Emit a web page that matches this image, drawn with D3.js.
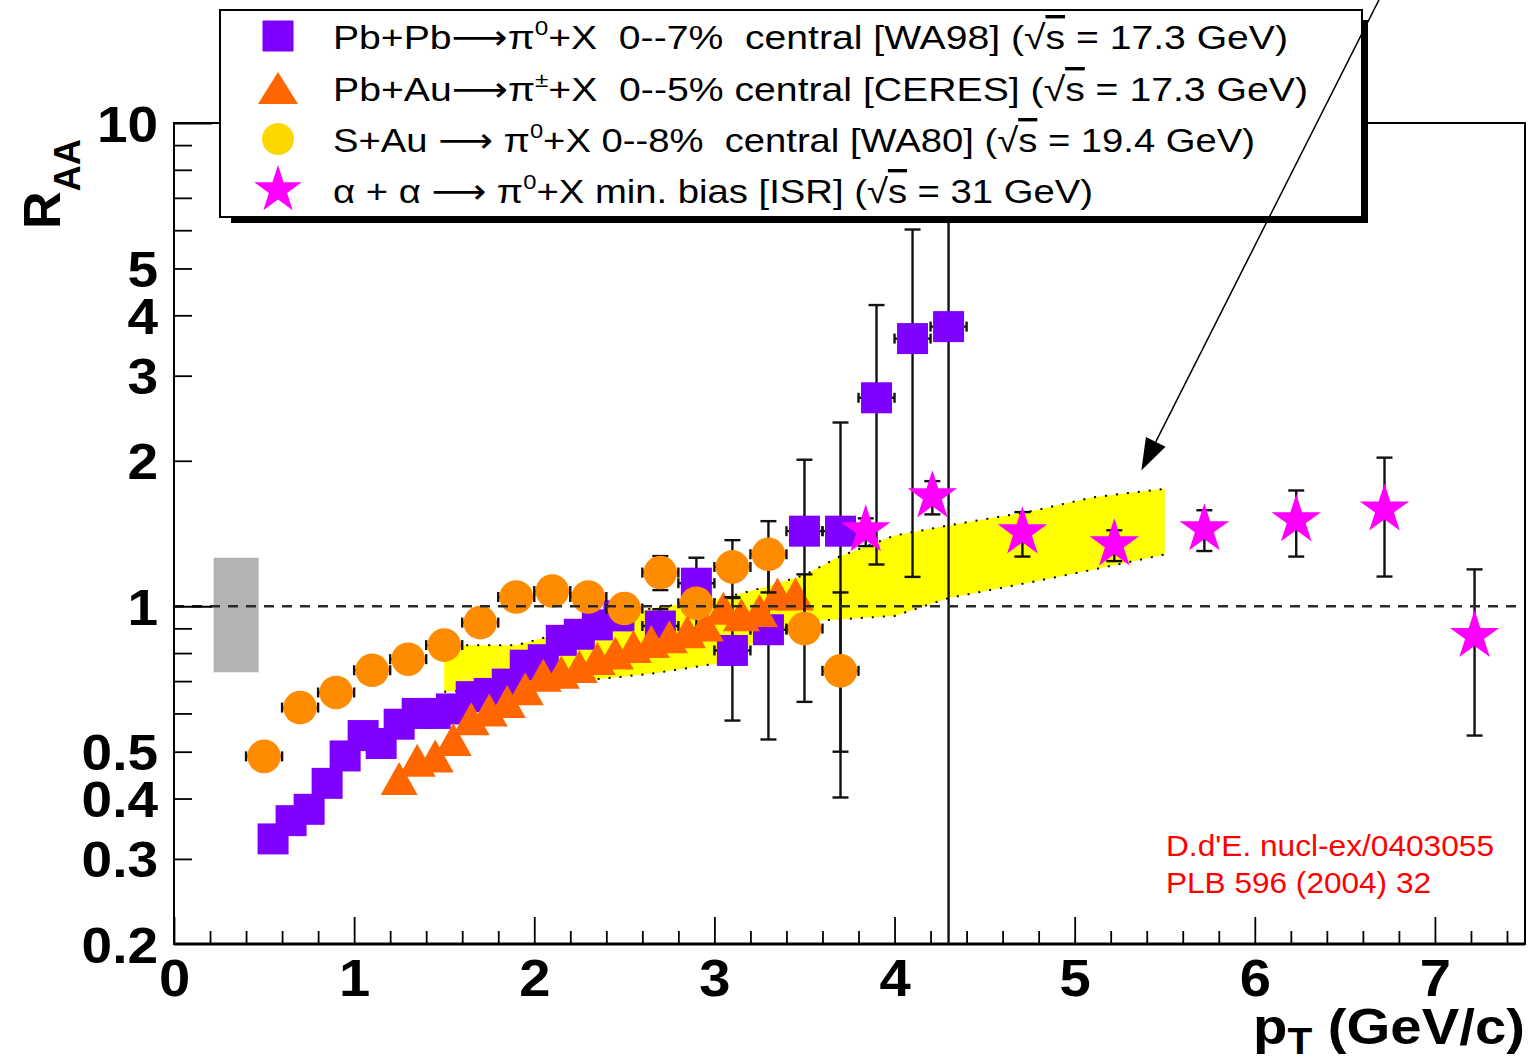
<!DOCTYPE html>
<html>
<head>
<meta charset="utf-8">
<script src="https://cdn.jsdelivr.net/npm/d3@7"></script>
<style>
  body { margin: 0; background: #fff; }
  text { font-family: "Liberation Sans", Arial, Helvetica, sans-serif; }
</style>
</head>
<body>
<div id="chart"></div>
<script>
// WA98 Pb+Pb -> pi0 (squares)
var wa98Pt = [0.55, 0.65, 0.75, 0.85, 0.95, 1.05, 1.15, 1.25, 1.35, 1.45, 1.54, 1.65, 1.75, 1.85, 1.95, 2.05, 2.15, 2.25, 2.35, 2.47, 2.7, 2.9, 3.1, 3.3, 3.5, 3.7, 3.9, 4.1, 4.3];
var wa98R  = [0.33, 0.36, 0.38, 0.43, 0.49, 0.54, 0.52, 0.57, 0.60, 0.60, 0.613, 0.65, 0.66, 0.69, 0.755, 0.775, 0.85, 0.875, 0.915, 0.955, 0.91, 1.116, 0.81, 0.894, 1.43, 1.43, 2.70, 3.58, 3.79];
var wa98Lo = [0.31, 0.34, 0.36, 0.41, 0.47, 0.52, 0.50, 0.55, 0.58, 0.58, 0.59, 0.63, 0.64, 0.67, 0.73, 0.75, 0.82, 0.84, 0.88, 0.92, 0.84, 0.90, 0.58, 0.53, 0.85, 0.50, 1.22, 1.15, 0.1];
var wa98Hi = [0.35, 0.38, 0.40, 0.45, 0.51, 0.56, 0.54, 0.59, 0.62, 0.62, 0.64, 0.67, 0.68, 0.71, 0.78, 0.80, 0.88, 0.91, 0.95, 0.99, 0.986, 1.26, 1.04, 1.26, 2.01, 2.40, 4.20, 6.02, 20];
var wa98Ex = [0.05, 0.05, 0.05, 0.05, 0.05, 0.05, 0.05, 0.05, 0.05, 0.05, 0.05, 0.05, 0.05, 0.05, 0.05, 0.05, 0.05, 0.05, 0.05, 0.05, 0.1, 0.1, 0.1, 0.1, 0.1, 0.1, 0.1, 0.1, 0.1];

// CERES Pb+Au -> pi+- (triangles)
var ceresPt = [1.25, 1.35, 1.45, 1.55, 1.65, 1.75, 1.85, 1.95, 2.05, 2.15, 2.25, 2.35, 2.45, 2.55, 2.65, 2.75, 2.85, 2.95, 3.05, 3.15, 3.25, 3.35, 3.45];
var ceresR  = [0.44, 0.48, 0.49, 0.53, 0.585, 0.61, 0.635, 0.675, 0.72, 0.73, 0.75, 0.78, 0.80, 0.825, 0.845, 0.865, 0.885, 0.915, 0.99, 0.96, 0.98, 1.06, 1.06];

// WA80 S+Au -> pi0 (circles)
var wa80Pt = [0.5, 0.7, 0.9, 1.1, 1.3, 1.5, 1.7, 1.9, 2.1, 2.3, 2.5, 2.7, 2.9, 3.1, 3.3, 3.5, 3.7];
var wa80R  = [0.489, 0.617, 0.663, 0.737, 0.777, 0.831, 0.925, 1.045, 1.075, 1.045, 0.989, 1.174, 1.014, 1.206, 1.281, 0.899, 0.735];
var wa80Lo = [0.47, 0.60, 0.645, 0.715, 0.755, 0.805, 0.895, 1.01, 1.04, 1.005, 0.925, 1.08, 0.95, 1.044, 1.068, 0.634, 0.402];
var wa80Hi = [0.51, 0.635, 0.68, 0.76, 0.80, 0.855, 0.955, 1.08, 1.11, 1.085, 1.05, 1.27, 1.08, 1.37, 1.50, 1.164, 1.068];
var wa80Ex = [0.1, 0.1, 0.1, 0.1, 0.1, 0.1, 0.1, 0.1, 0.1, 0.1, 0.1, 0.1, 0.1, 0.1, 0.1, 0.1, 0.1];

// ISR alpha+alpha -> pi0 (stars)
var isrPt = [3.84, 4.21, 4.71, 5.22, 5.72, 6.23, 6.72, 7.22];
var isrR  = [1.436, 1.688, 1.422, 1.343, 1.443, 1.506, 1.586, 0.868];
var isrLo = [1.332, 1.549, 1.267, 1.24, 1.301, 1.267, 1.152, 0.540];
var isrHi = [1.52, 1.815, 1.566, 1.436, 1.58, 1.736, 2.03, 1.192];

// yellow band
var bandPt = [1.5, 1.9, 2.65, 3.05, 3.3, 3.5, 3.7, 4.0, 4.3, 4.75, 5.1, 5.5];
var bandLo = [0.665, 0.68, 0.725, 0.765, 0.88, 0.93, 0.94, 0.955, 1.04, 1.12, 1.19, 1.28];
var bandHi = [0.83, 0.83, 0.99, 1.04, 1.10, 1.16, 1.27, 1.40, 1.47, 1.57, 1.68, 1.75];

// grey normalisation box
var sysBoxPt = [0.22, 0.47];
var sysBoxR = [0.73, 1.26];

// arrow annotation (data coords)
var arrowFrom = [6.69, 18];
var arrowTo = [5.37, 1.91];

// ticks
var xMajorTicks = [0, 1, 2, 3, 4, 5, 6, 7];
var yLabelTicks = [0.2, 0.3, 0.4, 0.5, 1, 2, 3, 4, 5, 10];
var yMinorTicks = [0.3, 0.4, 0.5, 0.6, 0.7, 0.8, 0.9, 2, 3, 4, 5, 6, 7, 8, 9];
var yMajorTicks = [1, 10];

var legendLabels = [
  [{t: 'Pb+Pb'}, {t: '\u27f6', arrow: true}, {t: '\u03c0'}, {t: '0', sup: true}, {t: '+X  0--7%  central [WA98] (\u221a'}, {t: 's', over: true}, {t: ' = 17.3 GeV)'}],
  [{t: 'Pb+Au'}, {t: '\u27f6', arrow: true}, {t: '\u03c0'}, {t: '\u00b1', sup: true}, {t: '+X  0--5% central [CERES] (\u221a'}, {t: 's', over: true}, {t: ' = 17.3 GeV)'}],
  [{t: 'S+Au '}, {t: '\u27f6', arrow: true}, {t: ' \u03c0'}, {t: '0', sup: true}, {t: '+X 0--8%  central [WA80] (\u221a'}, {t: 's', over: true}, {t: ' = 19.4 GeV)'}],
  [{t: '\u03b1 + \u03b1 '}, {t: '\u27f6', arrow: true}, {t: ' \u03c0'}, {t: '0', sup: true}, {t: '+X min. bias [ISR] (\u221a'}, {t: 's', over: true}, {t: ' = 31 GeV)'}]
];
var legendWidths = [955, 975, 922, 760];

var margin = { top: 123, right: 4, bottom: 116, left: 174 };
var width = 1529 - margin.left - margin.right;
var height = 1060 - margin.top - margin.bottom;

var svg = d3.select('#chart')
  .append('svg')
    .attr('width', 1529)
    .attr('height', 1060);

var g = svg.append('g')
  .attr('transform', 'translate(' + margin.left + ',' + margin.top + ')');

var x = d3.scaleLinear().domain([0, 7.5]).range([0, width]);
var y = d3.scaleLog().domain([0.2, 10]).range([height, 0]);

g.append('clipPath').attr('id', 'clip')
  .append('rect').attr('width', width).attr('height', height);
var plot = g.append('g').attr('clip-path', 'url(#clip)');

// grey box
plot.append('rect')
  .attr('x', x(sysBoxPt[0]))
  .attr('y', y(sysBoxR[1]))
  .attr('width', x(sysBoxPt[1]) - x(sysBoxPt[0]))
  .attr('height', y(sysBoxR[0]) - y(sysBoxR[1]))
  .attr('fill', '#b3b3b3');

// yellow band
var band = bandPt.map((p, i) => ({ pt: p, lo: bandLo[i], hi: bandHi[i] }));
plot.append('path').datum(band)
  .attr('fill', '#ffff00')
  .attr('d', d3.area().x(d => x(d.pt)).y0(d => y(d.lo)).y1(d => y(d.hi)));
['lo', 'hi'].forEach(function (k) {
  plot.append('path').datum(band)
    .attr('fill', 'none').attr('stroke', '#000').attr('stroke-width', 2)
    .attr('stroke-dasharray', '2,9')
    .attr('d', d3.line().x(d => x(d.pt)).y(d => y(d[k])));
});

// markers
function square(sel, s) {
  sel.append('rect').attr('x', -s / 2).attr('y', -s / 2).attr('width', s).attr('height', s);
}
function triangle(sel, w, h) {
  sel.append('path').attr('d', 'M0,' + (-h / 2) + 'L' + (w / 2) + ',' + (h / 2) + 'L' + (-w / 2) + ',' + (h / 2) + 'Z');
}
function circle(sel, r) {
  sel.append('circle').attr('r', r);
}
function star(sel, size) {
  sel.append('path').attr('d', d3.symbol().type(d3.symbolStar).size(size)());
}

function drawSeries(pts, vals, lo, hi, ex, color, shape) {
  var data = pts.map((p, i) => ({
    pt: p, r: vals[i],
    lo: lo ? lo[i] : null, hi: hi ? hi[i] : null, ex: ex ? ex[i] : 0
  }));
  var grp = plot.append('g');
  var eb = grp.append('g').attr('stroke', '#111').attr('stroke-width', 2.4);
  data.forEach(function (d) {
    var cx = x(d.pt), cy = y(d.r);
    if (d.lo !== null) {
      eb.append('line').attr('x1', cx).attr('x2', cx).attr('y1', y(d.lo)).attr('y2', y(d.hi));
      eb.append('line').attr('x1', cx - 8).attr('x2', cx + 8).attr('y1', y(d.lo)).attr('y2', y(d.lo));
      eb.append('line').attr('x1', cx - 8).attr('x2', cx + 8).attr('y1', y(d.hi)).attr('y2', y(d.hi));
    }
    if (d.ex) {
      var xl = x(d.pt - d.ex), xr = x(d.pt + d.ex);
      eb.append('line').attr('x1', xl).attr('x2', xr).attr('y1', cy).attr('y2', cy);
      eb.append('line').attr('x1', xl).attr('x2', xl).attr('y1', cy - 5).attr('y2', cy + 5);
      eb.append('line').attr('x1', xr).attr('x2', xr).attr('y1', cy - 5).attr('y2', cy + 5);
    }
  });
  grp.selectAll('g.mk').data(data).enter().append('g')
    .attr('class', 'mk')
    .attr('fill', color)
    .attr('transform', d => 'translate(' + x(d.pt) + ',' + y(d.r) + ')')
    .each(function () { shape(d3.select(this)); });
}

drawSeries(wa98Pt, wa98R, wa98Lo, wa98Hi, wa98Ex, '#7f00ff', s => square(s, 31));
drawSeries(ceresPt, ceresR, null, null, null, '#ff6600', s => triangle(s, 37, 33));
drawSeries(wa80Pt, wa80R, wa80Lo, wa80Hi, wa80Ex, '#ff8c00', s => circle(s, 16.8));
drawSeries(isrPt, isrR, isrLo, isrHi, null, '#ff00ff', s => star(s, 760));

// dashed line at R = 1
g.append('line')
  .attr('x1', 0).attr('x2', width)
  .attr('y1', y(1)).attr('y2', y(1))
  .attr('stroke', '#2a2a2a').attr('stroke-width', 2.5)
  .attr('stroke-dasharray', '10,8');

// axes
var xAxis = d3.axisBottom(x)
  .tickValues(xMajorTicks)
  .tickSizeInner(-27).tickSizeOuter(0)
  .tickPadding(15)
  .tickFormat(d3.format('d'));
var xMinor = d3.axisBottom(x)
  .tickValues(d3.range(0.2, 7.5, 0.2).filter(v => Math.abs(v - Math.round(v)) > 0.01))
  .tickSizeInner(-13).tickSizeOuter(0)
  .tickFormat('');
var gx = g.append('g').attr('transform', 'translate(0,' + height + ')').call(xAxis);
var gxm = g.append('g').attr('transform', 'translate(0,' + height + ')').call(xMinor);

var yAxis = d3.axisLeft(y)
  .tickValues(yLabelTicks)
  .tickSizeInner(0).tickSizeOuter(0)
  .tickPadding(14.5)
  .tickFormat(d3.format('~g'));
var yMinor = d3.axisLeft(y).tickValues(yMinorTicks).tickSizeInner(-18).tickSizeOuter(0).tickFormat('');
var yMajor = d3.axisLeft(y).tickValues(yMajorTicks).tickSizeInner(-38).tickSizeOuter(0).tickFormat('');
var gy = g.append('g').call(yAxis);
var gym = g.append('g').call(yMinor);
var gyM = g.append('g').call(yMajor);

[gx, gxm, gy, gym, gyM].forEach(function (a) {
  a.select('.domain').remove();
  a.selectAll('line').attr('stroke', '#000').attr('stroke-width', 1.8);
});
gx.selectAll('text')
  .attr('font-size', 52).attr('font-weight', 'bold').attr('fill', '#000')
  .attr('font-family', '"Liberation Sans", Arial, sans-serif')
  .attr('transform', 'scale(1.08,1)');
gy.selectAll('text')
  .attr('font-size', 50).attr('font-weight', 'bold').attr('fill', '#000')
  .attr('font-family', '"Liberation Sans", Arial, sans-serif')
  .attr('dy', '0.36em')
  .attr('transform', 'scale(1.1,1)');

// frame
g.append('rect')
  .attr('width', width).attr('height', height)
  .attr('fill', 'none').attr('stroke', '#000').attr('stroke-width', 2);
g.append('line')
  .attr('x1', 0).attr('x2', width).attr('y1', height).attr('y2', height)
  .attr('stroke', '#000').attr('stroke-width', 3);

// rich text helper
function addRich(sel, parts, size, supShift, subShift, small) {
  var shift = 0;
  parts.forEach(function (p) {
    var target = p.sup ? -supShift * size : (p.sub ? subShift * size : 0);
    var ts = sel.append('tspan').attr('dy', target - shift).text(p.t);
    shift = target;
    if (p.sup || p.sub) ts.attr('font-size', size * small);
    if (p.over) ts.style('text-decoration', 'overline');
    if (p.arrow) ts.style('font-family', '"DejaVu Sans", sans-serif');
  });
}

// axis titles
var xt = svg.append('text')
  .attr('x', 1253).attr('y', 1044)
  .attr('font-size', 50).attr('font-weight', 'bold')
  .attr('textLength', 272).attr('lengthAdjust', 'spacingAndGlyphs')
  .style('white-space', 'pre');
addRich(xt, [{t: 'p'}, {t: 'T', sub: true}, {t: ' (GeV/c)'}], 50, 0, 0.2, 0.72);

var yt = svg.append('text')
  .attr('transform', 'translate(60,229) rotate(-90)')
  .attr('font-size', 52).attr('font-weight', 'bold');
addRich(yt, [{t: 'R'}, {t: 'AA', sub: true}], 52, 0, 0.38, 0.7);

// legend
var lg = svg.append('g');
lg.append('rect').attr('x', 231).attr('y', 217).attr('width', 1137).attr('height', 6).attr('fill', '#000');
lg.append('rect').attr('x', 1362).attr('y', 20).attr('width', 6).attr('height', 203).attr('fill', '#000');
lg.append('rect').attr('x', 220).attr('y', 10).attr('width', 1142).attr('height', 207)
  .attr('fill', '#fff').attr('stroke', '#000').attr('stroke-width', 2);

var legendShapes = [
  { color: '#7f00ff', shape: s => square(s, 31) },
  { color: '#ff6600', shape: s => triangle(s, 40, 32) },
  { color: '#ffd700', shape: s => circle(s, 16) },
  { color: '#ff00ff', shape: s => star(s, 700) }
];
var rowY = [36, 88, 139, 190];
legendShapes.forEach(function (e, i) {
  var m = lg.append('g').attr('fill', e.color).attr('transform', 'translate(278,' + rowY[i] + ')');
  e.shape(m);
  var t = lg.append('text')
    .attr('x', 333).attr('y', rowY[i] + 13)
    .attr('font-size', 34)
    .attr('textLength', legendWidths[i]).attr('lengthAdjust', 'spacingAndGlyphs')
    .style('white-space', 'pre');
  addRich(t, legendLabels[i], 34, 0.42, 0, 0.62);
});

// arrow
var ax0 = margin.left + x(arrowFrom[0]), ay0 = margin.top + y(arrowFrom[1]);
var ax1 = margin.left + x(arrowTo[0]), ay1 = margin.top + y(arrowTo[1]);
var len = Math.hypot(ax0 - ax1, ay0 - ay1);
var ux = (ax0 - ax1) / len, uy = (ay0 - ay1) / len;
var bx = ax1 + ux * 32, by = ay1 + uy * 32;
svg.append('line')
  .attr('x1', ax0).attr('y1', ay0).attr('x2', bx).attr('y2', by)
  .attr('stroke', '#000').attr('stroke-width', 1.5);
svg.append('path')
  .attr('d', 'M' + ax1 + ',' + ay1 + 'L' + (bx - uy * 11) + ',' + (by + ux * 11) + 'L' + (bx + uy * 11) + ',' + (by - ux * 11) + 'Z')
  .attr('fill', '#000');

// reference note
var note = ['D.d\'E. nucl-ex/0403055', 'PLB 596 (2004) 32'];
var noteW = [328, 265];
note.forEach(function (s, i) {
  svg.append('text')
    .attr('x', 1166).attr('y', 856 + i * 37)
    .attr('font-size', 29).attr('fill', '#ff0000')
    .attr('textLength', noteW[i]).attr('lengthAdjust', 'spacingAndGlyphs')
    .text(s);
});
</script>
</body>
</html>
